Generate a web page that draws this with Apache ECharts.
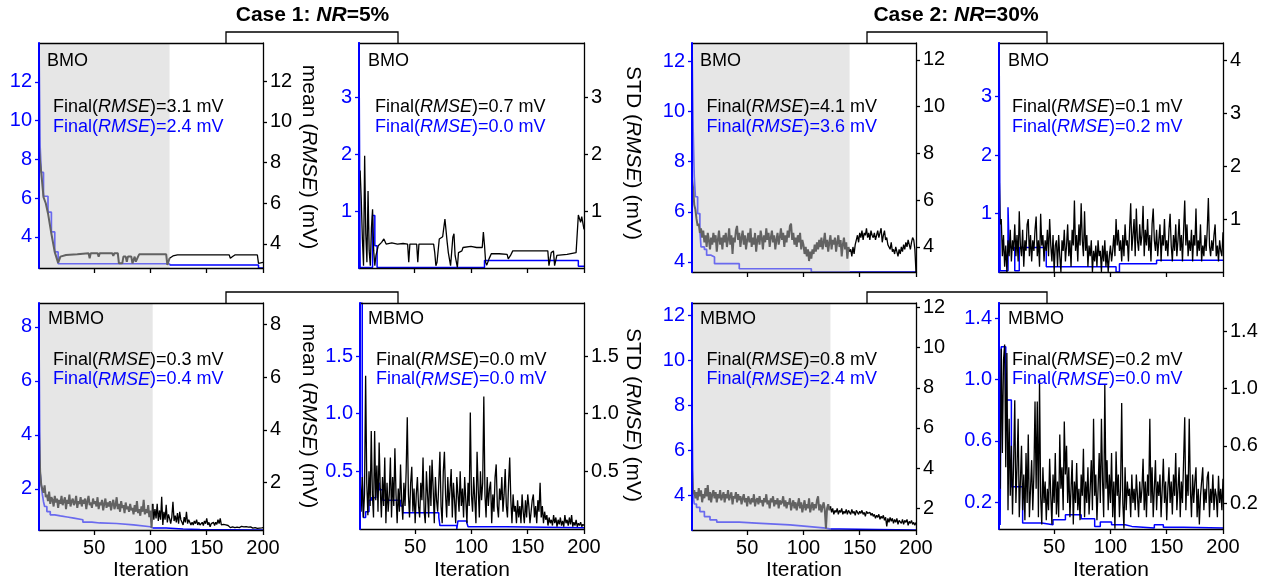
<!DOCTYPE html>
<html><head><meta charset="utf-8">
<script src="https://cdn.jsdelivr.net/npm/echarts@6/dist/echarts.min.js"></script>
<style>html,body{margin:0;padding:0;background:#fff}#c{width:1270px;height:585px}</style>
</head><body><div id="c"></div>
<script>
const FONT = '"Liberation Sans", Arial, Helvetica, sans-serif';

// ---------- data ----------
const panelNames = ['BMO','BMO','BMO','BMO','MBMO','MBMO','MBMO','MBMO'];
const finalBlack = ['3.1','0.7','4.1','0.1','0.3','0.0','0.8','0.2'];
const finalBlue  = ['2.4','0.0','3.6','0.2','0.4','0.0','2.4','0.0'];
const shadeEnd = [117, null, 141, null, 102, null, 124, null];
const xTicks = [50, 100, 150, 200];
const leftRange  = [[2.4,14],[0,3.95],[3.6,12.73],[0,3.92],[0.48,8.88],[0,1.96],[2.44,12.56],[0.024,1.5]];
const rightRange = [[2.82,13.87],[0,3.95],[2.93,12.72],[0,4.33],[0.21,8.8],[0,1.96],[0.92,12.22],[0.018,1.6]];
const leftTicks  = [[4,6,8,10,12],[1,2,3],[4,6,8,10,12],[1,2,3],[2,4,6,8],[0.5,1.0,1.5],[4,6,8,10,12],[0.2,0.6,1.0,1.4]];
const rightTicks = [[4,6,8,10,12],[1,2,3],[4,6,8,10,12],[1,2,3,4],[2,4,6,8],[0.5,1.0,1.5],[2,4,6,8,10,12],[0.2,0.6,1.0,1.4]];
const tickDecimals = [0,0,0,0,0,1,0,1];

// blue (best) series: [iteration, value] change points (step)
const blue1 = [[1,14],[2,8.67],[3,7.33],[5,6.1],[9,5.28],[12,4.26],[15,3.23],[18,2.62],[117,2.55],[196,2.4],[200,2.4]];
const blue2 = [[1,4],[2,0.01],[13,0.92],[15,0.39],[17,0.01],[112,0.13],[195,0.03],[200,0.03]];
const blue3 = [[1,12.73],[2,9.3],[3,7.4],[4,6.6],[6,5.93],[8,5.27],[9,4.6],[12,4.5],[14,4.27],[18,4.2],[21,3.93],[43,3.73],[107,3.6],[200,3.6]];
const blue4 = [[1,4.5],[2,0.02],[9,1.11],[10,0.42],[15,0.02],[19,0.42],[43,0.09],[105,0.0],[108,0.14],[141,0.2],[200,0.2]];
const blue5 = [[1,7.6],[2,2.6],[3,2.15],[4,1.8],[5,1.53],[6,1.35],[8,1.16],[11,1.04],[15,1.0],[20,0.96],[26,0.92],[32,0.86],[40,0.77],[48,0.74],[55,0.72],[70,0.67],[85,0.6],[100,0.55],[114,0.52],[129,0.5],[144,0.48],[200,0.48]];
const blue6 = [[1,1.96],[3,0.5],[4,0.1],[6,0.15],[9,0.25],[11,0.27],[15,0.4],[18,0.34],[21,0.25],[37,0.2],[39,0.14],[65,0.14],[71,0.1],[72,0.03],[87,0.0],[88,0.07],[96,0.05],[97,0.02],[131,0.01],[200,0.01]];
const blue7 = [[1,7.8],[2,4.0],[3,3.6],[5,3.45],[8,3.26],[12,3.04],[17,2.89],[23,2.79],[43,2.75],[58,2.67],[88,2.6],[103,2.52],[120,2.48],[132,2.44],[200,2.44]];
const blue8 = [[1,1.6],[2,0.05],[3,1.215],[7,0.867],[12,0.30],[22,0.063],[39,0.052],[49,0.085],[60,0.117],[74,0.091],[86,0.041],[91,0.07],[101,0.052],[113,0.041],[119,0.03],[139,0.052],[147,0.035],[165,0.03],[200,0.03]];

// black (current) series
const black1 = [[1,8.8],[2,8.0],[3,7.5],[5,6.3],[7,6.0],[9,5.5],[12,4.5],[15,3.6],[18,3.07],[20,3.38],[25,3.46],[35,3.5],[45,3.55],[46,3.3],[47,3.55],[53,3.55],[54,3.38],[55,3.55],[66,3.55],[67,3.42],[68,3.55],[71,3.55],[72,3.05],[75,3.05],[76,3.38],[78,3.38],[79,3.13],[80,3.38],[83,3.38],[84,3.05],[86,3.38],[87,3.13],[89,3.38],[90,3.49],[114,3.49],[115,2.97],[117,3.3],[118,3.3],[120,3.41],[124,3.46],[170,3.46],[171,3.3],[173,3.38],[175,3.46],[195,3.46],[196,3.05],[200,3.1]];
const black2 = [[1,1.45],[2,1.71],[3,1.2],[4,0.51],[5,0.04],[6,1.97],[7,0.6],[8,0.1],[9,1.35],[10,0.3],[11,0.04],[12,0.7],[13,1.03],[14,0.3],[15,0.04],[16,0.22],[17,0.3],[18,0.39],[19,0.36],[21,0.45],[23,0.51],[25,0.42],[30,0.44],[35,0.42],[40,0.43],[44,0.42],[45,0.1],[46,0.42],[52,0.42],[53,0.1],[54,0.42],[67,0.42],[68,0.27],[69,0.04],[70,0.1],[72,0.51],[75,0.55],[77,0.86],[79,0.45],[80,0.27],[82,0.04],[84,0.54],[85,0.6],[86,0.22],[88,0.01],[89,0.27],[92,0.3],[93,0.36],[100,0.38],[105,0.36],[110,0.36],[111,0.63],[112,0.4],[113,0.1],[114,0.05],[116,0.16],[118,0.25],[125,0.25],[132,0.24],[133,0.16],[135,0.22],[137,0.3],[150,0.3],[160,0.3],[168,0.3],[169,0.04],[171,0.27],[173,0.3],[174,0.04],[176,0.22],[185,0.24],[193,0.27],[195,0.93],[197,0.8],[198,0.9],[200,0.68]];
const black3 = [6.9,6.5,5.8,5.6,5.2,4.9,5.0,4.6,4.8,4.4, 4.7,4.2,4.5,4.0,4.6,4.3,3.9,4.4,4.1,4.6, 4.2,4.5,3.8,4.3,4.7,4.1,4.4,3.9,4.5,4.2, 4.6,4.0,4.3,4.8,4.1,4.5,3.7,4.4,4.2,4.7,
 4.9,4.3,4.6,4.0,4.4,4.7,4.1,4.5,3.9,4.3, 4.6,4.2,4.8,4.0,4.4,4.1,4.6,3.8,4.3,4.5, 4.1,4.7,4.4,3.9,4.5,4.2,4.8,4.3,4.6,4.0, 4.4,4.7,4.2,4.5,3.9,4.3,4.6,4.1,4.4,4.8,
 4.3,4.6,4.0,4.5,4.2,4.7,4.4,4.9,5.0,4.3, 4.6,4.1,4.4,4.0,4.5,4.2,4.6,3.9,4.3,4.1, 3.7,4.0,3.6,3.9,3.4,3.8,3.5,3.9,3.7,4.1, 3.8,4.2,3.9,4.3,4.0,4.4,3.9,4.2,4.6,4.0,
 4.3,3.8,4.2,4.5,3.9,4.3,4.1,4.4,3.8,4.2, 4.5,4.0,4.3,3.6,4.1,4.4,3.9,4.2,3.5,4.0, 3.8,3.9,3.6,4.0,3.7,4.1,4.3,4.5,4.2,4.6, 4.4,4.7,4.3,4.6,4.5,4.8,4.4,4.6,4.3,4.7,
 4.5,4.4,4.6,4.3,4.5,4.7,4.4,4.6,4.8,4.2, 4.5,4.7,4.3,4.4,4.1,4.0,3.9,4.2,3.8,3.9, 3.7,4.0,3.8,3.6,3.9,3.7,4.0,3.8,4.1,3.9, 4.2,4.0,4.3,4.1,3.9,4.2,4.4,4.3,3.9,2.9];
const black4 = [2.1,0.9,1.0,0.3,0.7,0.1,0.5,0.0,0.6,0.3, 0.8,0.2,0.6,0.4,0.9,0.3,0.7,0.2,1.15,0.5, 0.3,0.8,0.1,0.6,0.4,0.9,1.0,0.3,0.7,0.2, 0.6,0.4,0.8,1.05,0.3,0.6,0.1,1.1,0.5,0.7,
 0.2,0.6,0.4,0.8,0.3,1.0,0.5,0.2,0.7,0.0, 0.5,0.6,0.1,0.7,0.3,0.0,0.6,0.4,0.8,0.2, 0.5,0.9,0.3,0.6,0.1,0.8,0.5,1.35,0.4,0.7, 0.2,0.9,0.5,1.3,0.6,0.3,1.15,0.4,0.7,0.1,
 0.5,0.3,0.6,0.0,0.4,0.2,0.5,0.1,0.6,0.3, 0.4,0.0,0.5,0.2,0.6,0.1,0.4,0.0,0.3,0.5, 0.2,0.4,0.7,0.3,1.0,0.5,0.8,0.4,0.6,0.2, 0.7,0.3,0.9,0.5,0.6,0.2,0.8,1.3,0.4,0.7,
 1.0,0.3,1.2,0.6,0.4,0.9,0.5,0.7,1.25,0.3, 0.8,0.5,1.0,0.4,0.7,0.2,0.9,1.2,0.6,0.4, 0.8,0.3,0.6,0.9,0.2,0.7,0.5,1.0,0.4,0.6, 0.3,0.8,1.1,0.5,0.2,0.7,0.4,0.9,0.3,0.6,
 1.0,0.4,0.7,0.2,0.8,1.35,0.5,0.9,0.3,0.6, 0.4,0.8,0.2,0.7,0.5,1.2,0.3,0.6,0.4,0.9, 0.2,0.5,0.3,0.7,0.4,0.8,1.4,0.5,0.3,0.6, 0.4,0.7,0.9,0.3,0.5,0.2,0.6,0.4,0.3,0.75];
const black5 = [3.93,2.42,1.91,1.75,1.62,1.9,1.45,1.55,1.3,1.66, 1.2,1.45,1.35,1.1,1.5,1.25,1.4,1.05,1.35,1.2, 1.5,1.15,1.3,1.45,1.0,1.35,1.2,1.55,1.1,1.3, 1.4,1.15,1.25,1.5,1.05,1.3,1.2,1.45,1.1,1.35,
 1.2,1.4,1.0,1.3,1.5,1.15,1.25,1.05,1.4,1.2, 1.3,1.1,1.45,1.0,1.25,1.15,1.35,0.95,1.2,1.4, 1.05,1.25,1.1,1.3,0.95,1.2,1.35,1.0,1.15,1.45, 1.0,1.2,0.9,1.3,1.05,1.15,0.85,1.25,1.0,1.1,
 0.9,1.2,0.95,1.05,0.8,1.15,0.9,1.3,0.85,1.0, 0.75,1.1,0.9,1.35,0.8,1.0,0.85,1.15,0.7,0.95, 0.3,1.2,0.6,1.0,0.65,1.2,0.55,0.95,0.6,1.47, 0.4,0.9,0.6,1.16,0.5,0.8,0.65,0.45,0.7,1.28,
 0.55,0.75,0.5,0.85,0.45,0.9,0.6,0.5,0.4,0.7, 0.5,0.9,0.45,0.6,0.65,0.4,0.5,0.4,0.55,0.45, 0.6,0.4,0.5,0.4,0.45,0.5,0.38,0.55,0.45,0.65, 0.4,0.5,0.33,0.45,0.4,0.5,0.38,0.5,0.42,0.6,
 0.45,0.65,0.4,0.33,0.42,0.36,0.4,0.33,0.38,0.35, 0.3,0.36,0.33,0.38,0.3,0.35,0.32,0.36,0.3,0.33, 0.35,0.3,0.33,0.28,0.34,0.3,0.32,0.27,0.33,0.3, 0.28,0.32,0.3,0.34,0.27,0.3,0.28,0.32,0.29,0.3];
const black6 = [0.5,0.15,0.45,0.1,0.3,1.33,0.4,0.12,0.5,0.2, 0.85,0.3,0.1,0.85,0.25,0.55,0.15,0.75,0.35,0.1, 0.45,0.2,0.62,0.05,0.4,0.15,0.3,0.62,0.1,0.45, 0.2,0.7,0.3,0.05,0.35,0.15,0.56,0.25,0.08,0.4,
 0.2,0.5,0.97,0.3,0.1,0.4,0.54,0.15,0.35,0.05, 0.3,0.45,0.2,0.1,0.4,0.25,0.62,0.15,0.05,0.5, 0.3,0.1,0.55,0.2,0.6,0.35,0.05,0.45,0.25,0.15, 0.4,0.67,0.2,0.05,0.5,0.67,0.3,0.1,0.45,0.2,
 0.35,0.52,0.1,0.4,0.25,0.05,0.45,0.3,0.15,0.5, 0.2,0.35,0.1,0.45,0.25,0.05,0.4,0.2,1.01,0.3, 0.15,0.45,0.25,0.05,0.67,0.35,0.1,0.5,0.25,0.4, 1.15,0.3,0.1,0.45,0.2,0.35,0.41,0.05,0.3,0.15,
 0.45,0.56,0.2,0.1,0.35,0.25,0.45,0.15,0.3,0.52, 0.2,0.1,0.4,0.62,0.25,0.05,0.3,0.15,0.2,0.05, 0.25,0.1,0.2,0.05,0.3,0.15,0.05,0.25,0.1,0.3, 0.2,0.05,0.15,0.25,0.3,0.1,0.2,0.05,0.25,0.15,
 0.4,0.1,0.2,0.05,0.15,0.08,0.12,0.03,0.1,0.05, 0.08,0.03,0.12,0.05,0.1,0.02,0.08,0.04,0.1,0.03, 0.07,0.02,0.12,0.05,0.08,0.03,0.1,0.04,0.12,0.02, 0.06,0.03,0.08,0.02,0.05,0.03,0.06,0.02,0.04,0.03];
const black7 = [3.9,2.7,2.9,2.5,2.8,2.4,3.0,2.6,2.9,2.3, 2.7,2.5,3.0,2.6,3.16,2.4,2.8,2.3,2.7,2.9, 2.5,2.8,2.3,2.7,2.5,2.9,2.4,2.6,2.8,2.3, 2.7,2.5,2.9,2.4,2.6,2.8,2.2,2.6,2.5,2.8,
 2.3,2.7,2.4,2.6,2.2,2.5,2.7,2.3,2.5,2.1, 2.6,2.4,2.2,2.5,2.3,2.7,2.1,2.4,2.5,2.2, 2.6,2.3,2.4,2.1,2.5,2.3,2.7,2.2,2.4,2.0, 2.5,2.3,2.6,2.1,2.4,2.2,2.5,2.0,2.4,2.2,
 2.3,2.6,2.1,2.4,2.0,2.3,2.2,2.5,1.9,2.2, 2.4,2.0,2.3,1.9,2.2,2.5,2.0,2.3,1.8,2.1, 2.4,1.9,2.2,2.0,2.5,1.8,2.1,2.3,1.9,2.2, 2.0,2.4,2.6,1.9,2.2,1.8,2.1,2.3,1.9,1.0,
 2.0,2.2,1.9,2.1,1.8,2.0,1.7,1.9,1.8,2.0, 1.7,1.9,1.8,2.0,1.7,1.85,1.75,1.95,1.7,1.9, 1.8,1.7,1.95,1.75,1.85,1.65,1.9,1.8,1.7,1.85, 1.75,1.9,1.7,1.8,1.6,1.85,1.75,1.7,1.8,1.65,
 1.75,1.6,1.7,1.5,1.65,1.55,1.7,1.45,1.6,1.5, 1.65,1.4,1.55,1.1,1.5,1.3,1.55,1.35,1.5,1.25, 1.45,1.3,1.5,1.2,1.4,1.35,1.25,1.45,1.2,1.4, 1.3,1.45,1.15,1.35,1.25,1.4,1.2,1.3,1.15,1.3];
const black8 = [0.9,0.3,1.28,0.55,1.2,1.31,0.45,1.25,0.15,0.79, 0.25,0.6,0.12,0.5,0.92,0.2,0.45,0.79,0.1,0.35, 0.6,0.15,0.4,0.08,0.55,0.2,0.68,0.1,0.3,0.5, 0.15,0.4,0.91,0.3,0.91,0.1,1.06,0.25,0.05,0.45,
 0.2,0.35,0.08,0.3,0.15,0.51,0.25,0.05,0.4,0.2, 0.55,0.12,0.35,0.1,0.68,0.3,0.45,0.15,0.77,0.4, 0.6,0.2,0.45,0.1,0.3,0.5,0.05,0.35,0.2,0.48, 0.15,0.3,0.08,0.4,0.25,0.58,0.1,0.35,0.2,0.45,
 0.12,0.3,0.5,0.15,0.79,0.25,0.4,0.08,0.3,0.55, 0.2,0.79,0.35,0.1,1.03,0.3,0.5,0.15,0.4,0.2, 0.55,0.1,0.35,0.02,0.56,0.25,0.4,0.1,0.3,0.9, 0.2,0.02,0.45,0.15,0.35,0.25,0.3,0.1,0.4,0.2,
 0.3,0.15,0.4,0.25,0.1,0.35,0.2,0.3,0.51,0.15, 0.35,0.1,0.4,0.25,0.79,0.2,0.45,0.1,0.3,0.5, 0.15,0.35,0.25,0.4,0.1,0.3,0.51,0.2,0.35,0.08, 0.3,0.45,0.2,0.35,0.12,0.4,0.25,0.55,0.15,0.3,
 0.45,0.1,0.35,0.2,0.5,0.8,0.15,0.4,0.25,0.79, 0.3,0.1,0.4,0.2,0.35,0.45,0.1,0.3,0.05,0.25, 0.35,0.45,0.15,0.3,0.2,0.38,0.42,0.1,0.3,0.2, 0.4,0.15,0.3,0.25,0.1,0.39,0.2,0.3,0.15,0.37];

// ---------- layout ----------
const grids = [
  {left:39, top:43, width:224, height:225},
  {left:359,top:43, width:225, height:225},
  {left:692,top:43, width:224, height:229},
  {left:999,top:43, width:224, height:229},
  {left:39, top:303,width:224, height:227},
  {left:360,top:303,width:224, height:226},
  {left:692,top:303,width:224, height:227},
  {left:999,top:303,width:224, height:226}];
const labelDx = [8,9,8,9,9,8,8,9];
const finalDx = [14,16,14.5,13,14,16,14.5,13];

const toPairs = a => a.map((v,i)=>[i+1,v]);
const blueData = [blue1,blue2,blue3,blue4,blue5,blue6,blue7,blue8];
const blackData = [black1,black2,toPairs(black3),toPairs(black4),toPairs(black5),toPairs(black6),toPairs(black7),toPairs(black8)];

const BLUE='#0000ff', LBLUE='#6a6aee', GRAY='#626262', SHADE='#e6e6e6';

function splitStep(pairs,end){
  const a=[],b=[]; let last=null;
  pairs.forEach(p=>{ if(p[0]<=end){a.push(p); last=p[1];} });
  a.push([end,last]); b.push([end,last]);
  pairs.forEach(p=>{ if(p[0]>end) b.push(p); });
  return [a,b];
}
function splitLin(pairs,end){
  return [pairs.filter(p=>p[0]<=end), pairs.filter(p=>p[0]>=end)];
}
function line(k,yIdx,data,color,width,step){
  return {type:'line', xAxisIndex:2*k, yAxisIndex:yIdx, data:data, step:step||false,
    showSymbol:false, symbol:'none', lineStyle:{color:color,width:width}, itemStyle:{color:color},
    z:2, silent:true, clip:true, animation:false};
}

const xAxes=[], yAxes=[], series=[], gridOpts=[];
for(let k=0;k<8;k++){
  const g=grids[k]; const row2=k>=4;
  gridOpts.push({left:g.left, top:g.top, width:g.width, height:g.height, containLabel:false});
  xAxes.push({type:'value', gridIndex:k, position:'bottom', min:1, max:200, z:5,
    axisLine:{show:true,onZero:false,lineStyle:{color:'#000',width:1.3}},
    axisTick:{show:true,inside:false,length:5,customValues:xTicks,lineStyle:{color:'#000',width:1.3}},
    axisLabel:{show:row2,customValues:xTicks,fontSize:20,fontFamily:FONT,color:'#000',margin:8},
    splitLine:{show:false}});
  xAxes.push({type:'value', gridIndex:k, position:'top', min:1, max:200, z:5,
    axisLine:{show:true,onZero:false,lineStyle:{color:'#000',width:1.3}},
    axisTick:{show:false}, axisLabel:{show:false}, splitLine:{show:false}});
  const dec=tickDecimals[k];
  const fmt = v => dec ? Number(v).toFixed(dec) : String(Math.round(v));
  yAxes.push({type:'value', gridIndex:k, position:'left', min:leftRange[k][0], max:leftRange[k][1], z:6,
    axisLine:{show:true,onZero:false,lineStyle:{color:BLUE,width:2}},
    axisTick:{show:true,inside:false,length:4,customValues:leftTicks[k],lineStyle:{color:BLUE,width:1.3}},
    axisLabel:{show:true,customValues:leftTicks[k],formatter:fmt,fontSize:20,fontFamily:FONT,color:BLUE,margin:7},
    splitLine:{show:false}});
  yAxes.push({type:'value', gridIndex:k, position:'right', min:rightRange[k][0], max:rightRange[k][1], z:5,
    axisLine:{show:true,onZero:false,lineStyle:{color:'#000',width:1.3}},
    axisTick:{show:true,inside:false,length:4,customValues:rightTicks[k],lineStyle:{color:'#000',width:1.3}},
    axisLabel:{show:true,customValues:rightTicks[k],formatter:fmt,fontSize:20,fontFamily:FONT,color:'#000',margin:7},
    splitLine:{show:false}});

  const end=shadeEnd[k];
  if(end){
    const lo=leftRange[k][0];
    series.push({type:'custom', xAxisIndex:2*k, yAxisIndex:2*k, z:1, silent:true, animation:false,
      data:[[1,end]],
      renderItem:(params,api)=>{
        const cs=params.coordSys;
        const x0=api.coord([api.value(0),lo])[0], x1=api.coord([api.value(1),lo])[0];
        return {type:'rect', shape:{x:x0,y:cs.y,width:x1-x0,height:cs.height}, style:{fill:SHADE}};
      }});
    const bs=splitStep(blueData[k],end), ks=splitLin(blackData[k],end);
    series.push(line(k,2*k,bs[0],LBLUE,1.7,'end'));
    series.push(line(k,2*k,bs[1],BLUE,1.5,'end'));
    series.push(line(k,2*k+1,ks[0],GRAY,2,false));
    series.push(line(k,2*k+1,ks[1],'#000',1.3,false));
  } else {
    series.push(line(k,2*k,blueData[k],BLUE,1.5,'end'));
    series.push(line(k,2*k+1,blackData[k],'#000',1.3,false));
  }
}

// ---------- texts ----------
function T(x,y,text,color,size,extra){
  return Object.assign({type:'text', x:x, y:y, z:100, silent:true,
    style:{text:text, fill:color, font:size+'px '+FONT, fontSize:size, fontFamily:FONT,
      align:'left', textAlign:'left', verticalAlign:'middle', textVerticalAlign:'middle'}}, extra||{});
}
function R(x,y,text,rich,align,extra){
  return Object.assign({type:'text', x:x, y:y, z:100, silent:true,
    style:{text:text, rich:rich, align:align, textAlign:align, verticalAlign:'middle', textVerticalAlign:'middle'}}, extra||{});
}
function part(color,size,style,weight){
  return {fill:color, color:color, fontSize:size, fontFamily:FONT, fontStyle:style||'normal', fontWeight:weight||'normal'};
}
const els=[];
for(let k=0;k<8;k++){
  const g=grids[k], row2=k>=4;
  els.push(T(g.left+labelDx[k], g.top+(row2?16.5:18), panelNames[k], '#000', 18));
  [[finalBlack[k],'#000',row2?57:64],[finalBlue[k],BLUE,row2?76.5:84]].forEach(f=>{
    els.push(R(g.left+finalDx[k], g.top+f[2], '{n|Final(}{i|RMSE}{n|)='+f[0]+' mV}',
      {n:part(f[1],18), i:part(f[1],18,'italic')}, 'left'));
  });
  if(row2) els.push(T(g.left+g.width/2, 570, 'Iteration', '#000', 21, {style:{text:'Iteration', fill:'#000', font:'21px '+FONT, fontSize:21, fontFamily:FONT, align:'center', textAlign:'center', verticalAlign:'middle', textVerticalAlign:'middle'}}));
}
const nameRich = {n:part('#000',21), i:part('#000',21,'italic')};
[[308.5,157,'mean '],[633,153,'STD '],[308.5,416,'mean '],[633,415,'STD ']].forEach(a=>{
  els.push(R(a[0],a[1],'{n|'+a[2]+'(}{i|RMSE}{n|) (mV)}',nameRich,'center',{rotation:-Math.PI/2}));
});
const titleRich = {b:part('#000',21,'normal','bold'), bi:part('#000',21,'italic','bold')};
els.push(R(312.5,15,'{b|Case 1: }{bi|NR}{b|=5%}',titleRich,'center'));
els.push(R(956,15,'{b|Case 2: }{bi|NR}{b|=30%}',titleRich,'center'));
[[226,398,32,43],[867,1047,32,43],[226,398,292,303],[867,1047,292,303]].forEach(b=>{
  els.push({type:'polyline', z:100, silent:true, shape:{points:[[b[0],b[3]],[b[0],b[2]],[b[1],b[2]],[b[1],b[3]]]},
    style:{stroke:'#000', lineWidth:1.3, fill:null}});
});

const chart = echarts.init(document.getElementById('c'), null, {renderer:'canvas'});
chart.setOption({animation:false, backgroundColor:'#fff', grid:gridOpts, xAxis:xAxes, yAxis:yAxes, series:series, graphic:{elements:els}});
</script></body></html>
